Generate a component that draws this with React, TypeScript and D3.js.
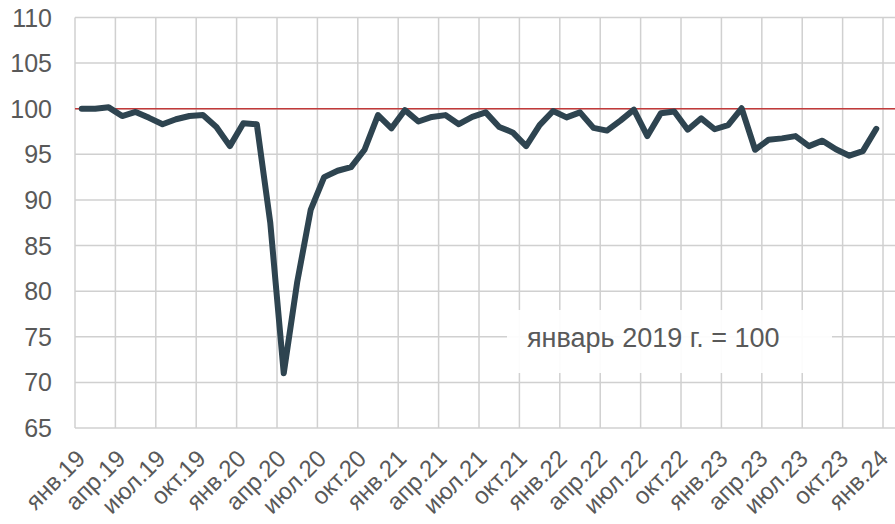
import React, { useRef, useEffect } from 'react';
import * as d3 from 'd3';

// месяцы янв.19 .. янв.24 (61 категория), данные по дек.23
const monthNames = ['янв', 'фев', 'мар', 'апр', 'май', 'июн', 'июл', 'авг', 'сен', 'окт', 'ноя', 'дек'];
const months: string[] = [];
for (let yr = 19; yr <= 24; yr++) {
  for (let m = 0; m < 12; m++) {
    if (yr === 24 && m > 0) break;
    months.push(`${monthNames[m]}.${yr}`);
  }
}

const values = [
  100.0, 100.0, 100.15, 99.2, 99.65, 99.0, 98.3, 98.85, 99.2, 99.3, 98.0, 95.9,
  98.4, 98.3, 87.5, 71.0, 81.0, 88.9, 92.5, 93.2, 93.6, 95.5, 99.3, 97.85,
  99.85, 98.6, 99.1, 99.3, 98.3, 99.1, 99.6, 98.0, 97.4, 95.9, 98.2, 99.75,
  99.05, 99.6, 97.9, 97.6, 98.7, 99.9, 97.0, 99.5, 99.7, 97.7, 98.95, 97.75,
  98.2, 100.05, 95.5, 96.6, 96.75, 97.0, 95.9, 96.5, 95.55, 94.85, 95.35, 97.8,
];

const yTicks = [65, 70, 75, 80, 85, 90, 95, 100, 105, 110];
const baseLevel = 100;
const note = 'январь 2019 г. = 100';

export default function App() {
  const ref = useRef<SVGSVGElement>(null);

  useEffect(() => {
    if (!ref.current) return;
    const svg = d3.select(ref.current);
    svg.selectAll('*').remove();

    const left = 75;
    const step = 13.467;
    const x = d3.scaleBand().domain(months).range([left, left + months.length * step]).padding(0);
    const y = d3.scaleLinear().domain([65, 110]).range([428, 17.5]);
    const xc = (m: string) => (x(m) as number) + x.bandwidth() / 2;
    const right = left + months.length * step;
    const grid = '#d0d0d0';
    const textColor = '#595959';
    const font = 'Liberation Sans, Arial, sans-serif';

    // horizontal grid
    svg.append('g')
      .selectAll('line')
      .data(yTicks)
      .enter()
      .append('line')
      .attr('x1', left)
      .attr('x2', right)
      .attr('y1', d => y(d))
      .attr('y2', d => y(d))
      .attr('stroke', grid)
      .attr('stroke-width', 1.5);

    // vertical grid on quarter boundaries
    const bounds = months.filter((_, i) => i % 3 === 0);
    svg.append('g')
      .selectAll('line')
      .data(bounds)
      .enter()
      .append('line')
      .attr('x1', d => x(d) as number)
      .attr('x2', d => x(d) as number)
      .attr('y1', y(110))
      .attr('y2', y(65))
      .attr('stroke', grid)
      .attr('stroke-width', 1.5);

    // y labels
    svg.append('g')
      .selectAll('text')
      .data(yTicks)
      .enter()
      .append('text')
      .attr('x', 52)
      .attr('y', d => y(d))
      .attr('dy', '0.36em')
      .attr('text-anchor', 'end')
      .attr('font-family', font)
      .attr('font-size', 25)
      .attr('fill', textColor)
      .text(d => d);

    // x labels
    svg.append('g')
      .selectAll('text')
      .data(bounds)
      .enter()
      .append('text')
      .attr('transform', (d, i) => `translate(${xc(d) + 5 - i * 0.25},${460}) rotate(-45)`)
      .attr('text-anchor', 'end')
      .attr('font-family', font)
      .attr('font-size', 24)
      .attr('fill', textColor)
      .text(d => d);

    // note box
    svg.append('rect')
      .attr('x', 507)
      .attr('y', 310)
      .attr('width', 325)
      .attr('height', 63)
      .attr('fill', '#fff')
      .attr('fill-opacity', 0.92);
    svg.append('text')
      .attr('x', 527)
      .attr('y', 347)
      .attr('font-family', font)
      .attr('font-size', 27)
      .attr('fill', textColor)
      .text(note);

    // base line
    svg.append('line')
      .attr('x1', left)
      .attr('x2', 895)
      .attr('y1', y(baseLevel))
      .attr('y2', y(baseLevel))
      .attr('stroke', '#c23a3a')
      .attr('stroke-width', 1.5);

    const line = d3.line<number>()
      .x((_, i) => xc(months[i]))
      .y(d => y(d));

    svg.append('path')
      .datum(values)
      .attr('d', line)
      .attr('fill', 'none')
      .attr('stroke', '#2e4450')
      .attr('stroke-width', 6)
      .attr('stroke-linejoin', 'round')
      .attr('stroke-linecap', 'round');
  }, []);

  return (
    <svg
      ref={ref}
      width={895}
      height={524}
      style={{ position: 'absolute', left: 0, top: 0, background: '#fff' }}
    />
  );
}
